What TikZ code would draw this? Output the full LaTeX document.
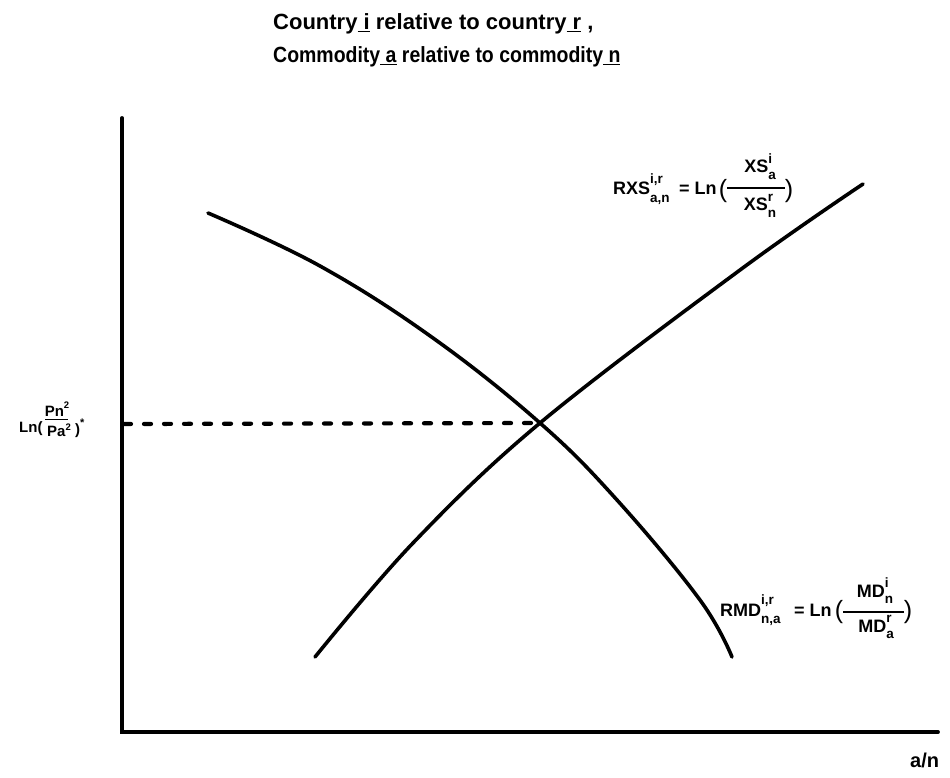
\documentclass[tikz,border=0pt]{standalone}
\usepackage{fontspec}
\setmainfont{Liberation Sans}
\newcommand{\smfs}{\fontsize{13.5}{14}\selectfont}
\newcommand{\tinyfs}{\fontsize{9.5}{10}\selectfont}
% stacked super/subscript: #1 size, #2 raise of sup, #3 raise of sub, #4 sup, #5 sub
\newcommand{\mysupsub}[5]{\ooalign{\raisebox{#2}{#1#4}\cr\raisebox{#3}{#1#5}\cr}}
\begin{document}
\begin{tikzpicture}[x=1pt,y=-1pt,
  axisline/.style={line width=3.8pt,line cap=round},
  curveline/.style={line width=3.6pt,line cap=round},
  dashline/.style={line width=4.2pt,line cap=round,dash pattern=on 7pt off 13pt},
  barline/.style={line width=1.1pt},
  ttl/.style={font=\fontsize{22}{26}\selectfont\bfseries,inner sep=0pt,anchor=base west},
  lab/.style={font=\fontsize{18}{20}\selectfont\bfseries,inner sep=0pt},
  par/.style={font=\fontsize{25}{28}\selectfont,inner sep=0pt},
  ylab/.style={font=\fontsize{15}{16}\selectfont\bfseries,inner sep=0pt},
  yfr/.style={font=\fontsize{15}{16}\selectfont\bfseries,inner sep=0pt}]
\useasboundingbox (0,0) rectangle (950,778);

% title
\node[ttl] (t1) at (273,30) {Country\underline{\ i} relative to country\underline{\ r} ,};
\node[ttl] (t2) at (273,63) {\scalebox{0.885}[1]{Commodity\underline{\ a} relative to commodity\underline{\ n}}};

% axes
\coordinate (O) at (122,732);
\coordinate (Ytop) at (122,118);
\coordinate (Xend) at (938,732);
\draw[axisline] (Ytop) -- (O) -- (Xend);

% curves
\coordinate (E) at (540,423);
\coordinate (Ey) at (124,424);
\draw[curveline] plot[smooth,tension=0.65] coordinates {(208,213) (320,266) (433,338) (540,423) (617,500) (700,600) (732,657)};
\draw[curveline] plot[smooth,tension=0.6] coordinates {(315,657) (413,543) (540,423) (740,270) (863,184)};
\draw[dashline] (Ey) -- (E);

% y label
\node[ylab,anchor=base west] (yl) at (19,432) {Ln(};
\node[yfr,anchor=base] (ynum) at (57,416) {Pn\raisebox{0.5em}{\tinyfs 2}};
\draw[barline] (45,419.5) -- (68,419.5);
\node[yfr,anchor=base] (yden) at (59,436) {Pa\raisebox{0.35em}{\tinyfs 2}};
\node[ylab,anchor=base west] (yr) at (75,434) {)\raisebox{0.5em}{\fontsize{11}{11}\selectfont *}};

% x label
\node[font=\fontsize{20}{24}\selectfont\bfseries,inner sep=0pt,anchor=base west] (xl) at (910,767) {a/n};

% RXS label
\node[lab,anchor=base west] (rxs) at (613,195) {RXS\mysupsub{\smfs}{0.62em}{-0.42em}{i,r}{a,n}};
\node[lab,anchor=base west] (rxseq) at (679,195) {= Ln};
\node[par] (rxsl) at (723,191) {(};
\node[par] (rxsr) at (789,191) {)};
\node[lab,anchor=base] (rxsnum) at (760,173) {XS\mysupsub{\smfs}{0.55em}{-0.38em}{i}{a}};
\node[lab,anchor=base] (rxsden) at (760,211) {XS\mysupsub{\smfs}{0.55em}{-0.38em}{r}{n}};
\draw[barline] (rxsl.east |- 0,188) -- (rxsr.west |- 0,188);

% RMD label
\node[lab,anchor=base west] (rmd) at (720,616) {RMD\mysupsub{\smfs}{0.62em}{-0.42em}{i,r}{n,a}};
\node[lab,anchor=base west] (rmdeq) at (794,616) {= Ln};
\node[par] (rmdl) at (839,612) {(};
\node[par] (rmdr) at (908,612) {)};
\node[lab,anchor=base] (rmdnum) at (875,597) {MD\mysupsub{\smfs}{0.55em}{-0.38em}{i}{n}};
\node[lab,anchor=base] (rmdden) at (876,632) {MD\mysupsub{\smfs}{0.55em}{-0.38em}{r}{a}};
\draw[barline] (rmdl.east |- 0,612) -- (rmdr.west |- 0,612);
\end{tikzpicture}
\end{document}
